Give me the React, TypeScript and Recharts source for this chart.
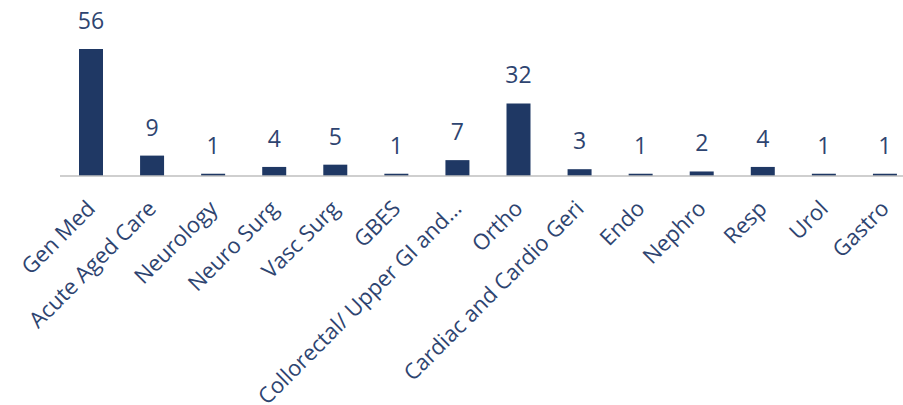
import React from "react";
import { BarChart, Bar, XAxis, YAxis, LabelList } from "recharts";

const categories = [
  "Gen Med",
  "Acute Aged Care",
  "Neurology",
  "Neuro Surg",
  "Vasc Surg",
  "GBES",
  "Collorectal/ Upper GI and…",
  "Ortho",
  "Cardiac and Cardio Geri",
  "Endo",
  "Nephro",
  "Resp",
  "Urol",
  "Gastro",
];
const counts = [56, 9, 1, 4, 5, 1, 7, 32, 3, 1, 2, 4, 1, 1];

const data = categories.map((name, i) => ({ name, value: counts[i] }));

const BAR = "#1F3864";
const TEXT = "#2E4470";
const FONT = "'Open Sans', sans-serif";

const Tick = (props: any) => {
  const { x, y, payload } = props;
  const ax = x + 6;
  const ay = y + 26;
  return (
    <text
      x={ax}
      y={ay}
      transform={`rotate(-45, ${ax}, ${ay})`}
      textAnchor="end"
      fill={TEXT}
      fontSize={22}
      fontFamily={FONT}
    >
      {payload.value}
    </text>
  );
};

export default function App() {
  return (
    <div style={{ position: "absolute", left: 0, top: 0, width: 903, height: 405, background: "#fff", overflow: "hidden" }}>
      <BarChart
        width={903}
        height={405}
        data={data}
        margin={{ top: 40, right: -12, bottom: 0, left: 60 }}
        style={{ overflow: "visible" }}
      >
        <YAxis hide domain={[0, 60]} />
        <XAxis
          dataKey="name"
          interval={0}
          height={229}
          tickLine={false}
          axisLine={{ stroke: "#BFBFBF", strokeWidth: 1.5 }}
          tick={<Tick />}
        />
        <Bar dataKey="value" fill={BAR} barSize={24} isAnimationActive={false}>
          <LabelList
            dataKey="value"
            position="top"
            offset={20}
            fill={TEXT}
            fontSize={23}
            fontFamily={FONT}
          />
        </Bar>
      </BarChart>
    </div>
  );
}
